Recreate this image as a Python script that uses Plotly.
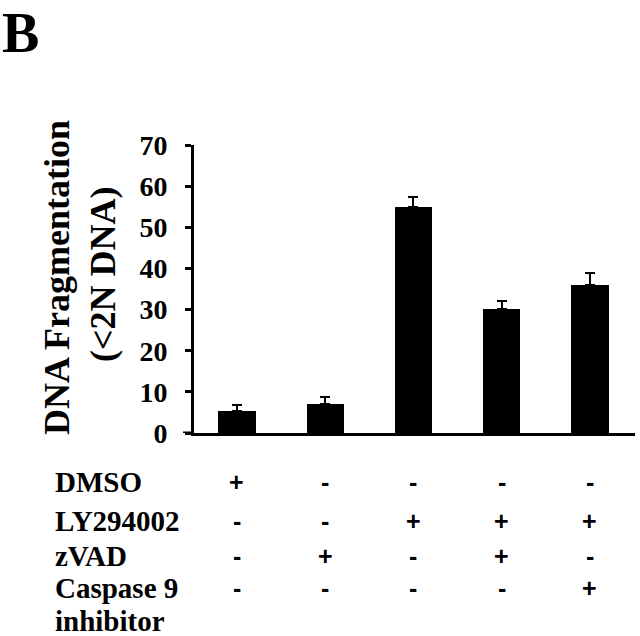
import plotly.graph_objects as go

# ---------------- data ----------------
conditions = ["C1", "C2", "C3", "C4", "C5"]
dna_fragmentation = [5.4, 7.1, 54.9, 30.2, 35.9]
error_plus = [1.4, 1.7, 2.4, 2.0, 2.9]
y_ticks = [0, 10, 20, 30, 40, 50, 60, 70]

row_labels = ["DMSO", "LY294002", "zVAD", "Caspase 9", "inhibitor"]
dmso = ["+", "-", "-", "-", "-"]
ly294002 = ["-", "-", "+", "+", "+"]
zvad = ["-", "+", "-", "+", "-"]
casp9 = ["-", "-", "-", "-", "+"]
sign_rows = [dmso, ly294002, zvad, casp9]

# ---------------- layout geometry ----------------
W, H = 640, 636
L, R, T, B = 194, 635, 145, 433


def px2x(px):
    return (px - L) / (R - L)


def py2y(py):
    return (B - py) / (B - T)


SERIF = "Liberation Serif"
SANS = "Liberation Sans"

xs = list(range(len(conditions)))

fig = go.Figure()
fig.add_trace(go.Bar(
    x=xs,
    y=dna_fragmentation,
    width=0.42,
    marker=dict(color="black", line=dict(width=0)),
    error_y=dict(type="data", symmetric=False, array=error_plus,
                 arrayminus=[0] * len(error_plus),
                 color="black", thickness=2, width=5),
    showlegend=False,
))

annotations = []
# panel letter
annotations.append(dict(text="B", xref="paper", yref="paper",
                        x=px2x(1), y=py2y(33), xanchor="left", yanchor="middle",
                        showarrow=False, borderpad=0,
                        font=dict(family=SERIF, size=56, color="black", weight="bold")))
# y-axis title (two lines)
annotations.append(dict(text="DNA Fragmentation", xref="paper", yref="paper",
                        x=px2x(57), y=py2y(278), xanchor="center", yanchor="middle",
                        textangle=-90, showarrow=False,
                        font=dict(family=SERIF, size=36, color="black", weight="bold")))
annotations.append(dict(text="(<2N DNA)", xref="paper", yref="paper",
                        x=px2x(103), y=py2y(275), xanchor="center", yanchor="middle",
                        textangle=-90, showarrow=False,
                        font=dict(family=SERIF, size=36, color="black", weight="bold")))

# table row labels
row_py = [482, 521, 556, 588, 621]
for lab, py in zip(row_labels, row_py):
    annotations.append(dict(text=lab, xref="paper", yref="paper",
                            x=px2x(53), y=py2y(py), xanchor="left", yanchor="middle",
                            showarrow=False,
                            font=dict(family=SERIF, size=29, color="black", weight="bold")))

# +/- signs
for row, py in zip(sign_rows, row_py[:4]):
    for xi, s in zip(xs, row):
        annotations.append(dict(text=s, xref="x", yref="paper",
                                x=xi, y=py2y(py), xanchor="center", yanchor="middle",
                                showarrow=False,
                                font=dict(family=SANS, size=25, color="black", weight="bold")))

fig.update_layout(
    width=W, height=H,
    margin=dict(l=L, r=W - R, t=T, b=H - B, pad=0),
    paper_bgcolor="white", plot_bgcolor="white",
    annotations=annotations,
    shapes=[dict(type="line", xref="paper", yref="y",
                 x0=px2x(183), x1=0, y0=0, y1=0,
                 line=dict(color="black", width=3))],
    bargap=0,
)
fig.update_xaxes(range=[-0.487, 4.51], showticklabels=False, ticks="",
                 showline=True, linecolor="black", linewidth=3,
                 showgrid=False, zeroline=False, fixedrange=True)
fig.update_yaxes(range=[0, 70], tickvals=y_ticks, ticks="outside", ticklen=6,
                 tickwidth=3, tickcolor="black",
                 showline=True, linecolor="black", linewidth=3,
                 showgrid=False, zeroline=False, ticklabelstandoff=12,
                 tickfont=dict(family=SERIF, size=28, color="black", weight="bold"))

fig.write_html("out.html", config={"displayModeBar": False},
               post_script="document.body.style.margin='0';document.body.style.padding='0';")
